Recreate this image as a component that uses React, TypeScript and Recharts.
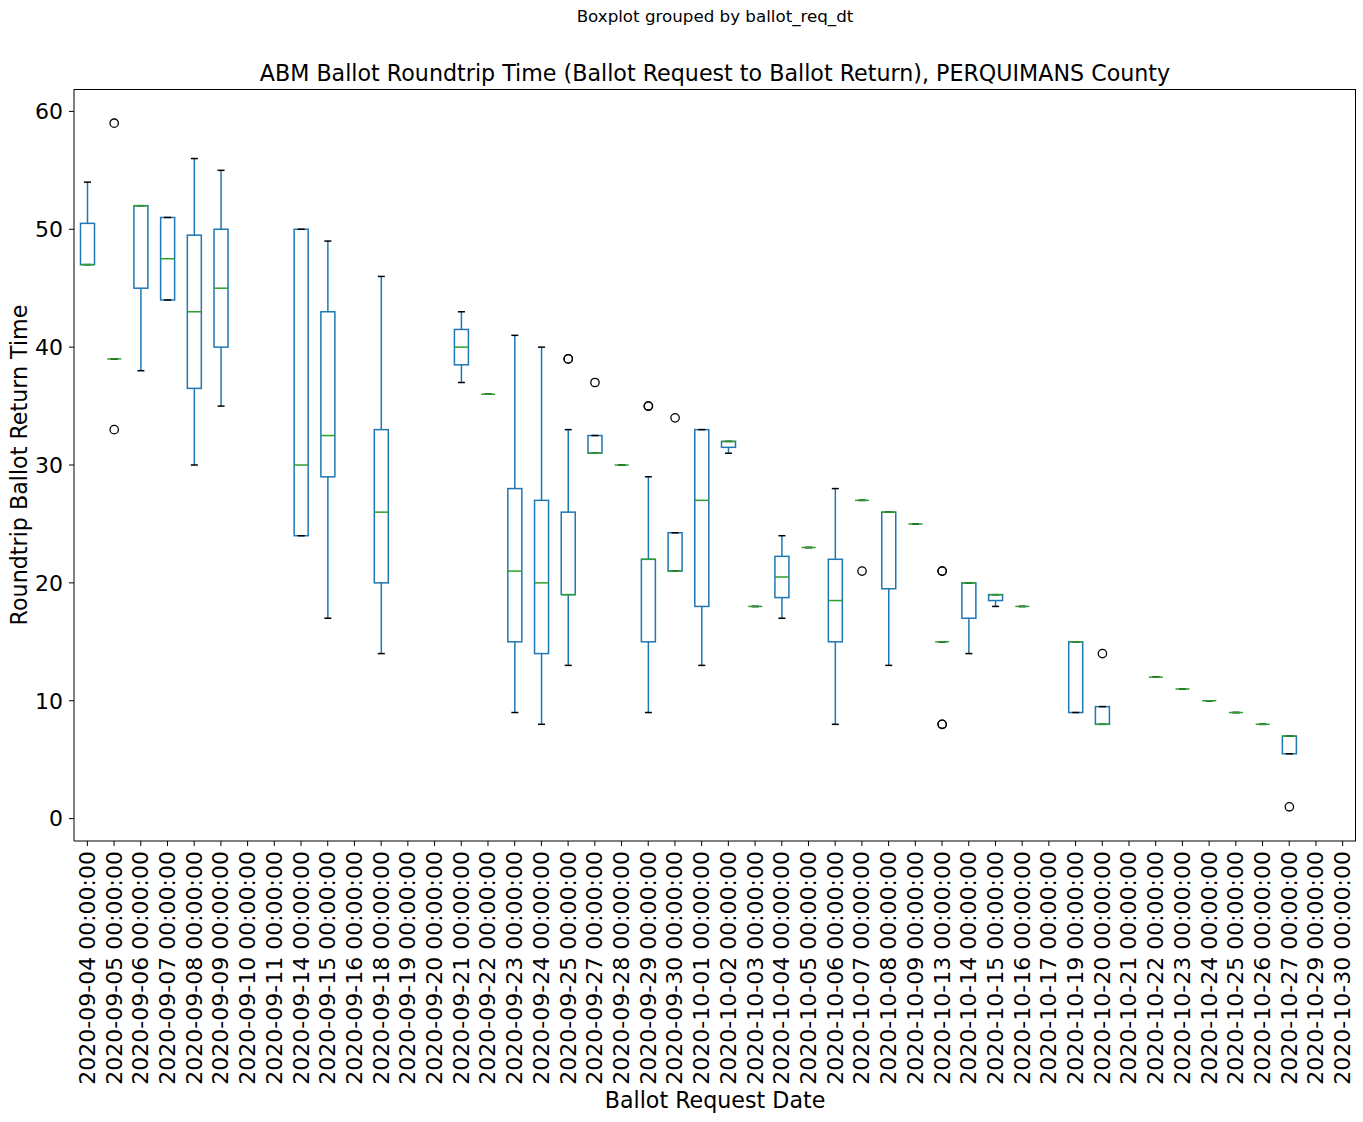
import React from 'react';
import { ComposedChart, Bar, XAxis, YAxis } from 'recharts';

// categorias (datas de pedido) e estatísticas de cada caixa
const dates = [
  '2020-09-04', '2020-09-05', '2020-09-06', '2020-09-07', '2020-09-08', '2020-09-09',
  '2020-09-10', '2020-09-11', '2020-09-14', '2020-09-15', '2020-09-16', '2020-09-18',
  '2020-09-19', '2020-09-20', '2020-09-21', '2020-09-22', '2020-09-23', '2020-09-24',
  '2020-09-25', '2020-09-27', '2020-09-28', '2020-09-29', '2020-09-30', '2020-10-01',
  '2020-10-02', '2020-10-03', '2020-10-04', '2020-10-05', '2020-10-06', '2020-10-07',
  '2020-10-08', '2020-10-09', '2020-10-13', '2020-10-14', '2020-10-15', '2020-10-16',
  '2020-10-17', '2020-10-19', '2020-10-20', '2020-10-21', '2020-10-22', '2020-10-23',
  '2020-10-24', '2020-10-25', '2020-10-26', '2020-10-27', '2020-10-29', '2020-10-30',
];

const whiskerLow = [
  47, 39, 38, 44, 30, 35, null, null, 24, 17, null, 14,
  null, null, 37, 36, 9, 8, 13, 31, 30, 9, 21, 13,
  31, 18, 17, 23, 8, 27, 13, 25, 15, 14, 18, 18,
  null, 9, 8, null, 12, 11, 10, 9, 8, 5.5, null, null,
];
const q1 = [
  47, 39, 45, 44, 36.5, 40, null, null, 24, 29, null, 20,
  null, null, 38.5, 36, 15, 14, 19, 31, 30, 15, 21, 18,
  31.5, 18, 18.75, 23, 15, 27, 19.5, 25, 15, 17, 18.5, 18,
  null, 9, 8, null, 12, 11, 10, 9, 8, 5.5, null, null,
];
const medians = [
  47, 39, 52, 47.5, 43, 45, null, null, 30, 32.5, null, 26,
  null, null, 40, 36, 21, 20, 19, 31, 30, 22, 21, 27,
  32, 18, 20.5, 23, 18.5, 27, 26, 25, 15, 20, 19, 18,
  null, 15, 8, null, 12, 11, 10, 9, 8, 7, null, null,
];
const q3 = [
  50.5, 39, 52, 51, 49.5, 50, null, null, 50, 43, null, 33,
  null, null, 41.5, 36, 28, 27, 26, 32.5, 30, 22, 24.25, 33,
  32, 18, 22.25, 23, 22, 27, 26, 25, 15, 20, 19, 18,
  null, 15, 9.5, null, 12, 11, 10, 9, 8, 7, null, null,
];
const whiskerHigh = [
  54, 39, 52, 51, 56, 55, null, null, 50, 49, null, 46,
  null, null, 43, 36, 41, 40, 33, 32.5, 30, 29, 24.25, 33,
  32, 18, 24, 23, 28, 27, 26, 25, 15, 20, 19, 18,
  null, 15, 9.5, null, 12, 11, 10, 9, 8, 7, null, null,
];
const outliers: number[][] = [
  [], [59, 33], [], [], [], [], [], [], [], [], [], [],
  [], [], [], [], [], [], [39, 39], [37], [], [35, 35], [34], [],
  [], [], [], [], [], [21], [], [], [21, 21, 8, 8], [], [], [],
  [], [], [14], [], [], [], [], [], [], [1], [], [],
];

const yTicks = [0, 10, 20, 30, 40, 50, 60];

const Y_MIN = -1.9;
const Y_MAX = 61.9;
const W = 1363;
const H = 1122;
const PLOT_LEFT = 74;
const PLOT_RIGHT = 1356;
const PLOT_TOP = 89;
const PLOT_BOTTOM = 841;
const YAXIS_W = 60;
const XAXIS_H = 260;
const FONT = '"DejaVu Sans", sans-serif';

const BLUE = '#1f77b4';
const GREEN = '#2ca02c';

const data = dates.map((d, i) => ({
  date: `${d} 00:00:00`,
  lo: whiskerLow[i],
  q1: q1[i],
  med: medians[i],
  q3: q3[i],
  hi: whiskerHigh[i],
  fliers: outliers[i],
  span: [Y_MIN, Y_MAX],
}));

// desenha a caixa completa usando a faixa [Y_MIN, Y_MAX] para obter a escala
const BoxShape = (props: any) => {
  const { x, y, width, height, payload } = props;
  if (!payload || payload.med == null) return <g />;
  const top = Math.min(y, y + height);
  const h = Math.abs(height);
  const py = (v: number) => top + (h * (Y_MAX - v)) / (Y_MAX - Y_MIN);
  const cx = x + width / 2;
  const bw = 7;
  const cw = 3.5;
  return (
    <g>
      <line x1={cx} x2={cx} y1={py(payload.q3)} y2={py(payload.hi)} stroke={BLUE} strokeWidth={1.5} />
      <line x1={cx} x2={cx} y1={py(payload.q1)} y2={py(payload.lo)} stroke={BLUE} strokeWidth={1.5} />
      <rect
        x={cx - bw}
        y={py(payload.q3)}
        width={bw * 2}
        height={py(payload.q1) - py(payload.q3)}
        fill="none"
        stroke={BLUE}
        strokeWidth={1.5}
      />
      <line x1={cx - cw} x2={cx + cw} y1={py(payload.hi)} y2={py(payload.hi)} stroke="#000" strokeWidth={1.5} />
      <line x1={cx - cw} x2={cx + cw} y1={py(payload.lo)} y2={py(payload.lo)} stroke="#000" strokeWidth={1.5} />
      <line x1={cx - bw} x2={cx + bw} y1={py(payload.med)} y2={py(payload.med)} stroke={GREEN} strokeWidth={1.5} />
      {payload.fliers.map((v: number, k: number) => (
        <circle key={k} cx={cx} cy={py(v)} r={4.2} fill="none" stroke="#000" strokeWidth={1.3} />
      ))}
    </g>
  );
};

const DateTick = (props: any) => {
  const { x, y, payload } = props;
  return (
    <text
      x={x}
      y={y}
      transform={`rotate(-90, ${x}, ${y})`}
      textAnchor="end"
      dominantBaseline="central"
      fontSize={22}
      fontFamily={FONT}
      fill="#000"
    >
      {payload.value}
    </text>
  );
};

const labelStyle: React.CSSProperties = {
  position: 'absolute',
  textAlign: 'center',
  fontSize: 22.2,
  lineHeight: '22px',
  color: '#000',
  whiteSpace: 'nowrap',
};

export default function App() {
  return (
    <div style={{ position: 'absolute', left: 0, top: 0, width: W, height: H, background: '#fff', fontFamily: FONT }}>
      <div style={{ ...labelStyle, left: PLOT_LEFT, width: PLOT_RIGHT - PLOT_LEFT, top: 8, fontSize: 16.7, lineHeight: '17px' }}>
        Boxplot grouped by ballot_req_dt
      </div>
      <div style={{ ...labelStyle, left: PLOT_LEFT, width: PLOT_RIGHT - PLOT_LEFT, top: 62 }}>
        ABM Ballot Roundtrip Time (Ballot Request to Ballot Return), PERQUIMANS County
      </div>
      <div
        style={{
          ...labelStyle,
          left: 19 - 200,
          top: (PLOT_TOP + PLOT_BOTTOM) / 2 - 13,
          width: 400,
          height: 26,
          lineHeight: '26px',
          transform: 'rotate(-90deg)',
        }}
      >
        Roundtrip Ballot Return Time
      </div>
      <div style={{ ...labelStyle, left: PLOT_LEFT, width: PLOT_RIGHT - PLOT_LEFT, top: 1089 }}>
        Ballot Request Date
      </div>
      <ComposedChart
        width={W}
        height={H}
        data={data}
        margin={{ top: PLOT_TOP, right: W - PLOT_RIGHT, left: PLOT_LEFT - YAXIS_W, bottom: H - PLOT_BOTTOM - XAXIS_H }}
        barCategoryGap={4}
      >
        <XAxis
          dataKey="date"
          interval={0}
          height={XAXIS_H}
          tick={<DateTick />}
          tickSize={5}
          tickMargin={5}
          stroke="#000"
          tickLine={{ stroke: '#000' }}
        />
        <YAxis
          type="number"
          domain={[Y_MIN, Y_MAX]}
          ticks={yTicks}
          allowDataOverflow
          width={YAXIS_W}
          tickSize={5}
          tickMargin={6}
          stroke="#000"
          tick={{ fontSize: 22, fill: '#000', fontFamily: FONT }}
        />
        <Bar dataKey="span" shape={<BoxShape />} isAnimationActive={false} />
      </ComposedChart>
      {/* moldura do eixo: topo e direita */}
      <div
        style={{
          position: 'absolute',
          left: PLOT_LEFT,
          top: PLOT_TOP,
          width: PLOT_RIGHT - PLOT_LEFT,
          height: PLOT_BOTTOM - PLOT_TOP,
          borderTop: '1px solid #000',
          borderRight: '1px solid #000',
          boxSizing: 'border-box',
          pointerEvents: 'none',
        }}
      />
    </div>
  );
}
